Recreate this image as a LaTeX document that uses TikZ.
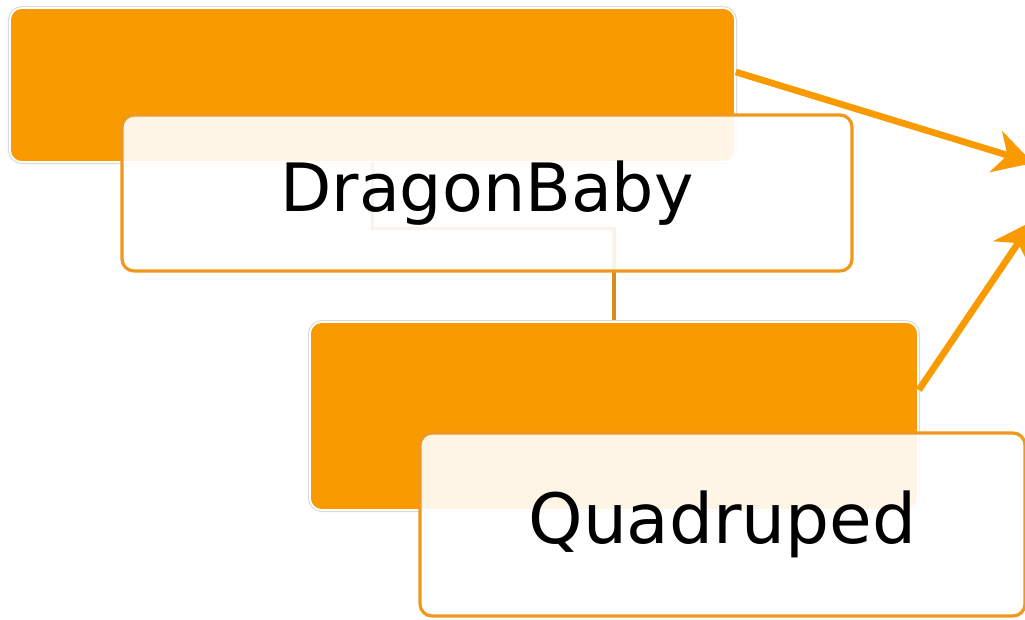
\documentclass[tikz,border=0pt]{standalone}
\usepackage{fontspec}
\setmainfont{DejaVu Sans}
\usetikzlibrary{arrows.meta}
\definecolor{boxorange}{HTML}{F99A00}
\definecolor{edgeorange}{HTML}{F0981E}
\definecolor{linkbrown}{HTML}{D98B1C}
\tikzset{
  obox/.style={rectangle, rounded corners=9pt, fill=boxorange, draw=white, line width=1.2pt,
    preaction={draw=black!14, line width=3pt}, inner sep=0pt},
  wbox/.style={rectangle, rounded corners=9pt, fill=white, fill opacity=0.9, text opacity=1,
    draw=edgeorange, draw opacity=1, line width=2.4pt, inner sep=0pt,
    font=\fontsize{50}{60}\selectfont},
  link/.style={draw=linkbrown, line width=2.4pt},
  arr/.style={draw=boxorange, line width=5pt,
    -{Stealth[length=29pt 0,width=32pt 0,inset=9pt 0]}}
}
\begin{document}
\begin{tikzpicture}[x=0.75pt,y=-0.75pt]
\begin{scope}
\clip (0,0) rectangle (1025,619);
\node[obox, minimum width=543.75pt, minimum height=115.5pt] (o1) at (372.5,85) {};
\draw[link] (o1.south) -- ++(0,66) -| (614,322) coordinate (c2);
\node[wbox, minimum width=547.5pt, minimum height=117pt] (w1) at (487,193) {DragonBaby};
\node[obox, minimum width=456pt, minimum height=141pt] (o2) at (614,416) {};
\node[wbox, minimum width=453.75pt, minimum height=137.25pt,
  font=\fontsize{52}{62}\selectfont] (w2) at (722.5,524.5) {Quadruped};
\coordinate (t1) at (1033,163);
\coordinate (t2) at (1033,221);
\draw[arr] ([yshift=9.75pt]o1.east) -- (t1);
\draw[arr] ([yshift=19.5pt]o2.east) -- (t2);
\end{scope}
\useasboundingbox (0,0) rectangle (1025,619);
\end{tikzpicture}
\end{document}
